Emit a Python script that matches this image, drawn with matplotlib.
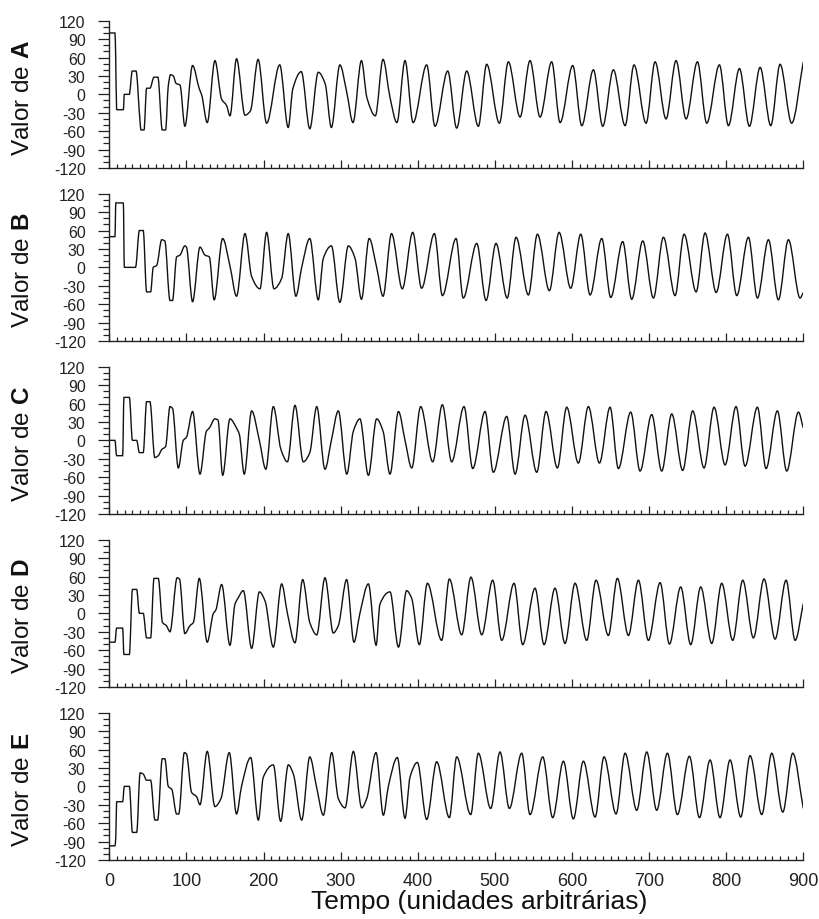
import matplotlib
matplotlib.use("Agg")
import numpy as np
import matplotlib.pyplot as plt
from matplotlib.ticker import MultipleLocator
from matplotlib.path import Path
from matplotlib.patches import PathPatch

plt.rcParams['font.family'] = ['Liberation Sans', 'DejaVu Sans']
plt.rcParams['mathtext.fontset'] = 'custom'
plt.rcParams['mathtext.rm'] = 'Liberation Sans'
plt.rcParams['mathtext.bf'] = 'Liberation Sans:bold'

# ---------------- data ----------------
t_A = [0, 7.3, 8.2, 9.5, 18.2, 19.5, 25.9, 29.8, 34.6, 39.8, 41.1, 45, 48.4, 52.7, 58, 63, 68.7, 73,
       76.5, 79.5, 83, 86.5, 91.7, 98, 108, 116.7, 119.8, 127, 137, 145.7, 152, 156.5, 165, 176, 183,
       193, 204, 221, 232, 238, 249, 260, 271, 280, 288, 299, 308, 316, 327, 334, 345, 355, 364, 373,
       383.5, 394, 411.6, 422.4, 438.9, 450.5, 463.5, 478.6, 489.4, 505.9, 517.5, 532.7, 545.6, 558.6,
       573.7, 584.6, 601, 612.7, 627.8, 639.9, 653.7, 668.9, 680.5, 696.1, 707.8, 722, 735, 748, 762.7,
       774.8, 791.2, 802.9, 817.2, 830.1, 844, 857.8, 869.9, 884.9, 900]
v_A = [100, 100, 68, -25, -25, 0, 0, 38, 38, -43, -58, -58, 10, 10, 28, 28, -58, -58,
       14, 32, 30, 18, 15, -52, 47, 9, -1, -46, 55, -8, -18, -35, 58, -34, -27,
       57, -47, 48, -54, 9, 37, -56, 36, 17, -54, 48, 3, -46, 55, -5, -35, 57, -5, -46,
       55, -46, 48, -52, 38, -55, 38, -52, 49, -47, 53, -37, 55, -37,
       53, -46, 47, -51, 40, -52, 40, -51, 48, -47, 53, -40, 55, -40, 53,
       -47, 48, -51, 42, -52, 44, -51, 49, -47, 53]

t_B = [0, 7.3, 8.5, 18.2, 19.5, 34, 39, 44, 48.4, 53.6, 57, 61.4, 68, 72, 78.7, 82, 87.3, 91.7, 98,
       100, 108, 117.6, 124, 129.7, 136, 147, 156.5, 165, 176, 184.6, 195.4, 204, 213.6, 223.5, 232,
       242, 249.5, 260, 271, 277.6, 288, 299, 310, 318.6, 327, 337, 346.7, 355, 366, 380, 393.5,
       405, 421.6, 432, 449.7, 459, 476.5, 488.6, 501.5, 516, 527.5, 543.5, 555.2, 570.7, 583.3,
       598.4, 611.4, 623.5, 638.6, 650.3, 665.8, 677.5, 691.8, 705.6, 718.6, 733.7, 745.4, 761,
       772.6, 787, 801.6, 813.7, 828.8, 840.5, 854.8, 867.7, 880.7, 895.8, 900]
v_B = [50, 50, 105, 105, 0, 0, 60, 60, -40, -40, 0, 3, 45, 43, -54, -54, 17, 20, 35,
       33, -56, 33, 20, 17, -53, 47, 2, -47, 55, -15, -35, 57, -35, -18, 55,
       -47, 0, 47, -53, 15, 35, -57, 35, 15, -52, 47, 0, -47, 55, -35, 57,
       -34, 55, -46, 47, -50, 39, -54, 39, -50, 49, -45, 54, -38, 57,
       -34, 54, -45, 47, -49, 42, -52, 43, -50, 49, -46, 54, -40,
       56, -41, 54, -46, 49, -50, 45, -53, 45, -50, -41]

t_C = [0, 7.3, 9.5, 17.3, 19, 26, 30, 35.5, 39, 44, 48.4, 52.7, 59, 63.5, 68, 73, 78.7, 82, 89.5,
       96, 100, 108, 117.6, 126, 129.7, 137, 141, 147, 156.5, 165, 168.6, 175, 184.6, 194.6, 203,
       212.7, 222.6, 231, 240.8, 251.6, 260, 269, 279.7, 288, 297, 308, 316.5, 325, 336, 346.7, 355,
       364, 375, 383.5, 392.2, 403.8, 419.4, 431.9, 444, 460, 471.3, 487.3, 498, 515.4, 526.2, 539.2,
       554.3, 566.4, 581.1, 593.2, 608.3, 621.3, 635.6, 649.4, 660.2, 676.2, 688.3, 703.4, 716.4,
       729.4, 743.6, 756.6, 771.3, 784.3, 798.6, 812.8, 824.5, 840.5, 851.7, 866.4, 878.5, 893.7, 900]
v_C = [0, 0, -25, -25, 70, 70, 0, 0, -20, -20, 63, 63, -28, -25, -15, -10, 55, 52, -45,
       0, 5, 47, -55, 15, 20, 35, 33, -57, 35, 20, 10, -55, 48, 0, -47,
       55, -15, -35, 57, -35, -20, 55, -47, 0, 48, -55, 15, 35, -57, 35, 15,
       -55, 47, 0, -45, 55, -35, 58, -35, 55, -46, 47, -52, 39, -55, 41,
       -52, 47, -45, 54, -37, 55, -37, 54, -46, 46, -50, 42, -50,
       43, -49, 48, -45, 54, -40, 55, -42, 54, -46, 48, -50, 46, 20]

t_D = [0, 7.3, 9.5, 17.3, 19, 26, 30, 35.5, 39, 44, 48.4, 53.6, 58, 63.5, 69, 74, 78.7, 88, 91,
       98, 104.6, 109, 116.7, 127, 135, 138, 145.7, 156.5, 163, 167, 173.8, 184.6, 194.6, 202,
       212.7, 223.5, 231, 240.8, 250.8, 260, 269, 279.7, 290.5, 297, 307.8, 317.3, 325, 336, 346,
       351, 364, 375, 385.6, 392, 402.1, 412.5, 431, 441, 457, 469, 483, 497.2, 508.9, 524.9, 536.1,
       552.1, 563.8, 578, 591, 604, 619.1, 631.2, 647.2, 658.9, 673.2, 686.2, 699.1, 714.3, 726.4,
       741, 754, 767, 781.3, 794.2, 808.5, 821.5, 835.3, 849.1, 863.4, 877.7, 889.4, 900]
v_D = [-47, -47, -24, -24, -67, -67, 39, 39, 0, 0, -40, -40, 57, 57, -15, -20, -30, 58, 56,
       -33, -20, -15, 57, -47, 0, 5, 47, -52, 15, 25, 37, -57, 35, 20,
       -55, 48, 0, -48, 55, -15, -35, 58, -32, -20, 55, -47, 0, 48, -52,
       15, 35, -55, 37, 25, -51, 49, -44, 56, -35, 59, -35, 54, -44, 49, -51,
       41, -51, 41, -49, 49, -44, 54, -36, 57, -36, 54, -44, 50, -50,
       43, -51, 43, -49, 49, -44, 54, -40, 56, -42, 54, -44, 16]

t_E = [0, 7.3, 8.5, 9.5, 17.3, 19.5, 26, 30, 35.5, 40, 44, 48.4, 53.6, 59.2, 62.7, 68.7, 72, 76.5,
       81, 87.3, 90, 97.3, 100, 106.8, 113.3, 117.6, 127, 137, 144.8, 155.6, 165, 171.5, 183.3,
       193.3, 199.7, 212.7, 222.2, 232.2, 238.7, 249.5, 260, 268.6, 277.6, 288.4, 297, 305.7, 316.5,
       327.3, 333.8, 345.9, 355.4, 361.9, 373.5, 383.5, 390, 399.5, 411.6, 424.6, 441, 450.5, 468.7,
       478.6, 494.6, 506.7, 518.8, 534.8, 545.6, 562.1, 575, 588.9, 601.8, 614.8, 630, 641.6, 657.2,
       668.9, 684, 697, 709.9, 723.8, 736.7, 752.3, 765.3, 779.1, 792, 805, 818.9, 831, 846.1,
       859.1, 873.4, 886.3, 900]
v_E = [-97, -97, -80, -25, -25, 0, 0, -75, -75, 22, 20, 10, 10, -55, -55, 45, 45, 0,
       -5, -45, -45, 55, 53, -10, -17, -30, 57, -33, -20, 55, -45, 0, 47,
       -55, 15, 35, -57, 35, 20, -55, 48, 0, -47, 55, -20, -35, 57,
       -35, -20, 55, -47, 0, 47, -52, 15, 39, -54, 40, -51, 48, -46,
       54, -36, 56, -36, 54, -46, 48, -51, 41, -53, 41, -50, 48, -45,
       54, -39, 56, -39, 54, -46, 49, -51, 43, -51, 43, -50, 50, -46,
       54, -42, 54, -36]

labels = ['A', 'B', 'C', 'D', 'E']
series = [(t_A, v_A), (t_B, v_B), (t_C, v_C), (t_D, v_D), (t_E, v_E)]
y_ticks = [-120, -90, -60, -30, 0, 30, 60, 90, 120]
x_ticks = [0, 100, 200, 300, 400, 500, 600, 700, 800, 900]


def smooth_path(x, y):
    """Monotone (PCHIP-style) cubic Bezier path through the data points."""
    x = np.asarray(x, float)
    y = np.asarray(y, float)
    h = np.diff(x)
    d = np.diff(y) / h
    n = len(x)
    m = np.zeros(n)
    for k in range(1, n - 1):
        if d[k - 1] * d[k] > 0:
            w1 = 2 * h[k] + h[k - 1]
            w2 = h[k] + 2 * h[k - 1]
            m[k] = (w1 + w2) / (w1 / d[k - 1] + w2 / d[k])
    m[0] = d[0]
    m[-1] = d[-1]
    verts = [(x[0], y[0])]
    codes = [Path.MOVETO]
    for i in range(n - 1):
        verts += [(x[i] + h[i] / 3, y[i] + m[i] * h[i] / 3),
                  (x[i + 1] - h[i] / 3, y[i + 1] - m[i + 1] * h[i] / 3),
                  (x[i + 1], y[i + 1])]
        codes += [Path.CURVE4] * 3
    return Path(verts, codes)


# ---------------- layout ----------------
W, H = 819, 920
fig = plt.figure(figsize=(W / 100, H / 100), dpi=100)
left = 109.3 / W
width = 694 / W
height = 147.3 / H
bottom0 = 1 - 169 / H
step = 173 / H

for i, (lab, (t, v)) in enumerate(zip(labels, series)):
    ax = fig.add_axes([left, bottom0 - i * step, width, height])
    ax.add_patch(PathPatch(smooth_path(t, v), facecolor='none', edgecolor='#111111',
                           lw=1.0, transform=ax.transData))
    ax.set_xlim(0, 900)
    ax.set_ylim(-120, 120)
    for s in ['top', 'right']:
        ax.spines[s].set_visible(False)
    for s in ['left', 'bottom']:
        ax.spines[s].set_linewidth(1.0)
        ax.spines[s].set_color('#222222')
    ax.set_yticks(y_ticks)
    ax.set_yticklabels([str(y) for y in y_ticks])
    ax.yaxis.set_minor_locator(MultipleLocator(10))
    ax.set_xticks(x_ticks)
    ax.xaxis.set_minor_locator(MultipleLocator(10))
    ax.tick_params(axis='y', which='major', direction='out', length=8, width=0.9,
                   labelsize=11.5, pad=9, colors='#222222')
    ax.tick_params(axis='y', which='minor', direction='out', length=4.3, width=0.9, colors='#222222')
    ax.tick_params(axis='x', which='major', direction='in', length=5.5, width=0.9,
                   labelsize=13, pad=8.5, colors='#222222')
    ax.tick_params(axis='x', which='minor', direction='in', length=3, width=0.9, colors='#222222')
    if i < 4:
        ax.set_xticklabels([])
    else:
        ax.set_xticklabels([str(x) for x in x_ticks])
    yc = 1 - (21.7 + 76 + i * 173) / H
    fig.text(23 / W, yc, 'Valor de $\\mathbf{' + lab + '}$', rotation=90,
             ha='center', va='center', fontsize=17.5, color='#111111')

fig.text(479 / W, 1 - 902 / H, 'Tempo (unidades arbitrárias)', ha='center', va='center',
         fontsize=19, color='#111111')

fig.savefig('out.png', dpi=100)
